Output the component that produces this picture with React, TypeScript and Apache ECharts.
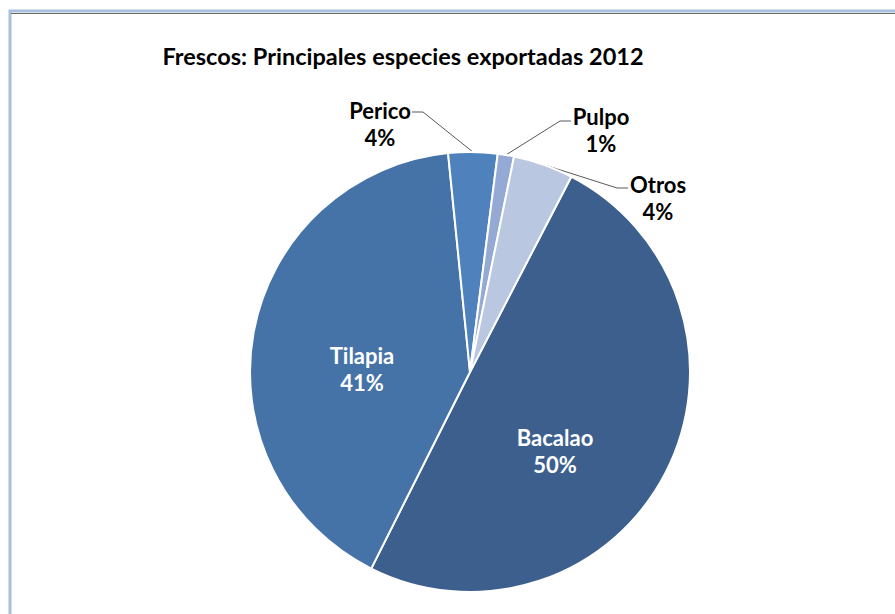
import React, { useEffect, useRef } from "react";
import * as echarts from "echarts";

const titleText = "Frescos: Principales especies exportadas 2012";
const categories = ["Bacalao", "Tilapia", "Perico", "Pulpo", "Otros"];
const values = [49.8, 41.0, 3.6, 1.2, 4.4];
const colors = ["#3C5F8D", "#4573A8", "#4F81BD", "#94AAD4", "#B9C7E1"];

// label anchor positions (layout, not data)
const labelPos: [number, number][] = [
  [555, 451],
  [362, 369],
  [380, 124],
  [601, 130],
  [658, 198],
];
const labelElbows: ([number, number][] | null)[] = [
  null,
  null,
  [[423, 112], [412, 112]],
  [[560, 121], [571, 121]],
  [[617, 188], [628, 188]],
];

export default function App() {
  const ref = useRef<HTMLDivElement>(null);
  useEffect(() => {
    if (!ref.current) return;
    const chart = echarts.init(ref.current, null, { renderer: "svg" });
    const inside = [true, true, false, false, false];
    chart.setOption({
      animation: false,
      backgroundColor: "#ffffff",
      title: {
        text: titleText,
        left: 398,
        top: 39,
        textAlign: "center",
        textStyle: {
          fontFamily: "Lato",
          fontWeight: "bold",
          fontSize: 23.5,
          color: "#000000",
        },
      },
      graphic: [
        {
          type: "rect",
          shape: { x: 10, y: 11, width: 1000, height: 1000 },
          style: { fill: "none", stroke: "#A9BFDD", lineWidth: 3 },
          silent: true,
        },
        {
          type: "line",
          shape: { x1: 11, y1: 13.5, x2: 1000, y2: 13.5 },
          style: { stroke: "#6f6a60", lineWidth: 1 },
          silent: true,
        },
      ],
      series: [
        {
          type: "pie",
          center: [470, 372],
          radius: 220,
          startAngle: 62.6,
          clockwise: true,
          avoidLabelOverlap: false,
          percentPrecision: 0,
          itemStyle: { borderColor: "#ffffff", borderWidth: 2 },
          label: {
            formatter: "{b}\n{d}%",
            fontFamily: "Lato",
            fontWeight: "bold",
            fontSize: 22,
            lineHeight: 27,
            align: "center",
          },
          labelLine: {
            show: true,
            length: 20,
            length2: 10,
            lineStyle: { color: "#595959", width: 1 },
          },
          labelLayout: (params: any) => {
            const i = params.dataIndex;
            const res: any = {
              x: labelPos[i][0],
              y: labelPos[i][1],
              align: "center",
              verticalAlign: "middle",
            };
            const el = labelElbows[i];
            if (el && params.labelLinePoints && params.labelLinePoints[0]) {
              res.labelLinePoints = [params.labelLinePoints[0], el[0], el[1]];
            }
            return res;
          },
          data: categories.map((name, i) => ({
            name,
            value: values[i],
            itemStyle: { color: colors[i] },
            label: inside[i]
              ? { position: "inside", color: "#ffffff" }
              : { position: "outside", color: "#000000" },
            labelLine: { show: !inside[i] },
          })),
        },
      ],
    });
    return () => chart.dispose();
  }, []);
  return (
    <div
      ref={ref}
      style={{ position: "fixed", left: 0, top: 0, width: 895, height: 614 }}
    />
  );
}
